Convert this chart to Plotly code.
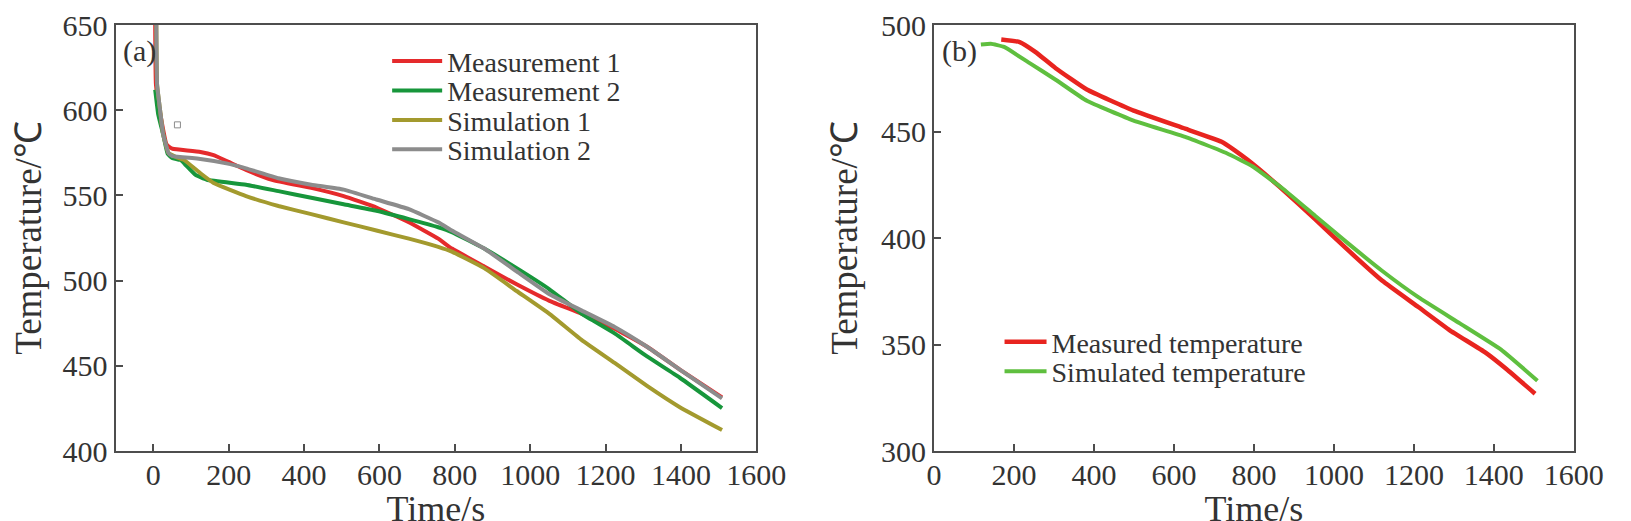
import plotly.graph_objects as go

# ---- panel (a) data: cooling curves ----
m1_t = [5, 7, 20, 35, 45, 51, 125, 160, 198, 246, 315, 419, 505, 592, 678, 756, 792, 878, 964, 1051, 1137, 1224, 1310, 1397, 1509]
m1_T = [650, 615, 596, 580, 578, 577.4, 575.5, 573.6, 569.8, 564.9, 559.2, 554.4, 549.6, 542.9, 534.2, 524.6, 518.8, 508.3, 497.8, 488.1, 480.5, 471.8, 461.2, 447.8, 431.5]

m2_t = [5, 13, 26, 38, 50, 73, 86, 112, 142, 246, 332, 419, 505, 592, 678, 756, 792, 878, 964, 1051, 1137, 1224, 1310, 1397, 1509]
m2_T = [612, 597.6, 586, 574.5, 572, 570.7, 567.8, 562, 559.2, 556.3, 552.5, 548.6, 544.8, 541, 536.1, 531.3, 528.5, 518.8, 507.3, 494.9, 480.5, 469, 455.5, 443, 425.2]

s1_t = [8, 10, 18, 26, 40, 60, 82, 125, 160, 246, 332, 419, 505, 592, 678, 756, 792, 878, 964, 1051, 1137, 1224, 1310, 1397, 1509]
s1_T = [650, 615, 600, 586, 575, 572.5, 570.7, 563, 557.3, 549.6, 543.8, 539, 534.2, 529.4, 524.6, 519.8, 517, 507.3, 493.9, 480.5, 465.1, 451.7, 438.2, 425.7, 412.3]

s2_t = [8, 10, 18, 26, 40, 51, 116, 194, 246, 332, 419, 505, 592, 678, 756, 792, 878, 964, 1051, 1137, 1224, 1310, 1397, 1509]
s2_T = [650, 615, 600, 586, 575, 573, 571.7, 568.8, 565.9, 560.1, 556.3, 553.4, 547.6, 541.9, 534.2, 529.4, 518.8, 505.4, 492, 482.4, 472.8, 461.2, 447.8, 430.9]

# stray square mark seen in the original figure
stray_t = [64]
stray_T = [591.4]

# ---- panel (b) data ----
meas_t = [168, 214, 253, 304, 382, 499, 628, 719, 751, 784, 862, 952, 1030, 1121, 1211, 1289, 1380, 1432, 1503]
meas_T = [493.2, 492, 487.4, 479.7, 469.7, 459.8, 451.3, 445.2, 441.3, 436.7, 424.4, 409, 395.2, 379.9, 367.6, 356.8, 346.1, 338.4, 326.9]

sim_t = [117, 142, 175, 240, 304, 382, 499, 628, 732, 797, 874, 952, 1030, 1121, 1211, 1315, 1418, 1509]
sim_T = [490.8, 491.2, 489.7, 482, 474.3, 464.4, 455.1, 447.5, 439.8, 433.6, 422.9, 410.6, 398.3, 384.5, 372.2, 359.9, 347.6, 333]

x_ticks = [0, 200, 400, 600, 800, 1000, 1200, 1400, 1600]

FONT = 'Liberation Serif'
AXC = '#4d4d4d'
TXT = '#333333'
W, H = 1631, 521
TOP, BOT = 9, 78
PLOT_H = H - TOP - BOT


def curve(color, width=4):
    return dict(color=color, width=width, shape='spline', smoothing=0.35)


def legend_row(x_px, y_px, item_w):
    # one legend box per entry so the rows can sit as tight as in the original
    return dict(x=x_px / W, y=(H - BOT - y_px) / PLOT_H, xanchor='left', yanchor='middle',
                itemwidth=item_w, bgcolor='rgba(0,0,0,0)',
                font=dict(family=FONT, size=28, color=TXT))


fig = go.Figure()

# panel (a)
fig.add_trace(go.Scatter(x=m1_t, y=m1_T, name='Measurement 1', mode='lines',
                         line=curve('#e52a2c'), legend='legend'))
fig.add_trace(go.Scatter(x=m2_t, y=m2_T, name='Measurement 2', mode='lines',
                         line=curve('#17963b'), legend='legend3'))
fig.add_trace(go.Scatter(x=s1_t, y=s1_T, name='Simulation 1', mode='lines',
                         line=curve('#a39a2e'), legend='legend4'))
fig.add_trace(go.Scatter(x=s2_t, y=s2_T, name='Simulation 2', mode='lines',
                         line=curve('#8c8c8c'), legend='legend5'))
fig.add_trace(go.Scatter(x=stray_t, y=stray_T, mode='markers', showlegend=False,
                         marker=dict(symbol='square-open', size=6, color='#8c8c8c',
                                     line=dict(width=1))))

# panel (b)
fig.add_trace(go.Scatter(x=meas_t, y=meas_T, name='Measured temperature', mode='lines',
                         line=curve('#e8241f', 4.5), xaxis='x2', yaxis='y2', legend='legend2'))
fig.add_trace(go.Scatter(x=sim_t, y=sim_T, name='Simulated temperature', mode='lines',
                         line=curve('#5fbf3f'), xaxis='x2', yaxis='y2', legend='legend6'))

axis_style = dict(showline=True, mirror=True, linecolor=AXC, linewidth=2,
                  ticks='inside', ticklen=7, tickwidth=1.5, tickcolor=AXC,
                  showgrid=False, zeroline=False, ticklabeloverflow='allow',
                  tickfont=dict(family=FONT, size=30, color=TXT))
title_font = dict(family=FONT, size=36, color=TXT)

fig.update_layout(
    width=W, height=H,
    margin=dict(l=0, r=0, t=TOP, b=BOT),
    paper_bgcolor='white', plot_bgcolor='white',
    xaxis=dict(axis_style, domain=[102 / W, 758 / W], range=[-100, 1600],
               tickvals=x_ticks, anchor='y', ticklabelstandoff=-4,
               title=dict(text='Time/s', font=title_font, standoff=10)),
    yaxis=dict(axis_style, domain=[0, 1], range=[400, 650], dtick=50, anchor='x',
               title=dict(text='Temperature/℃', font=dict(title_font, size=37), standoff=12)),
    xaxis2=dict(axis_style, domain=[940 / W, 1595 / W], range=[0, 1600],
                tickvals=x_ticks, anchor='y2', ticklabelstandoff=-4,
                title=dict(text='Time/s', font=title_font, standoff=10)),
    yaxis2=dict(axis_style, domain=[0, 1], range=[300, 500], dtick=50, anchor='x2',
                title=dict(text='Temperature/℃', font=dict(title_font, size=37), standoff=12)),
    legend=legend_row(380, 46, 50),
    legend3=legend_row(380, 76, 50),
    legend4=legend_row(380, 106, 50),
    legend5=legend_row(380, 136, 50),
    legend2=legend_row(1007, 332, 42),
    legend6=legend_row(1007, 362, 42),
    annotations=[
        dict(text='(a)', xref='x domain', yref='y domain', x=0.008, y=0.938,
             xanchor='left', yanchor='middle', showarrow=False,
             font=dict(family=FONT, size=30, color=TXT)),
        dict(text='(b)', xref='x2 domain', yref='y2 domain', x=0.009, y=0.938,
             xanchor='left', yanchor='middle', showarrow=False,
             font=dict(family=FONT, size=30, color=TXT)),
    ],
)

fig.write_html('out.html')
